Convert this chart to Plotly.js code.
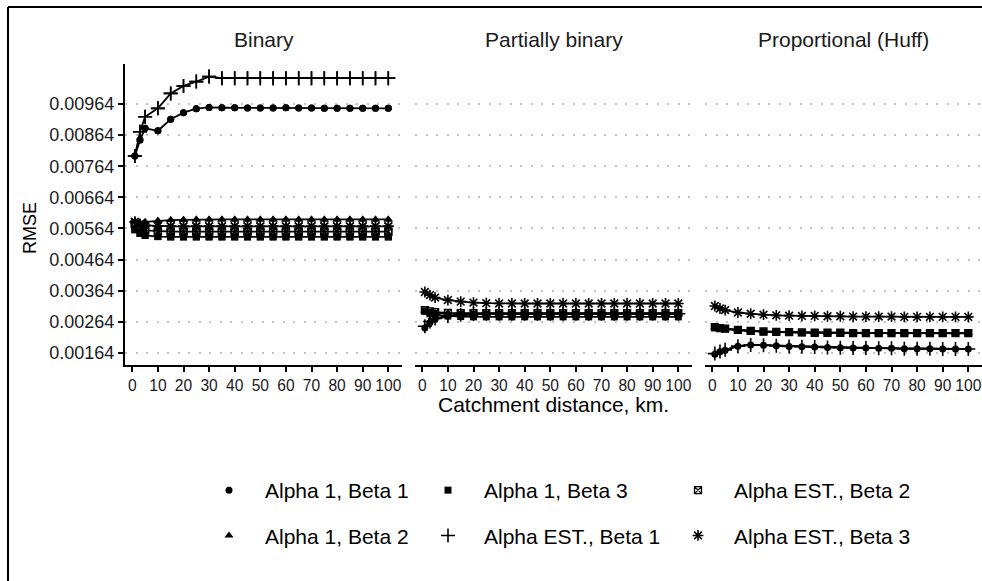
<!DOCTYPE html>
<html><head><meta charset="utf-8">
<script src="https://cdn.plot.ly/plotly-3.0.1.min.js"></script>
<style>html,body{margin:0;padding:0;background:#fff}#chart{width:982px;height:581px}</style>
</head><body><div id="chart"></div><script>
const panelTitles = ["Binary", "Partially binary", "Proportional (Huff)"];
const seriesNames = ["Alpha 1, Beta 1", "Alpha 1, Beta 2", "Alpha 1, Beta 3", "Alpha EST., Beta 1", "Alpha EST., Beta 2", "Alpha EST., Beta 3"];
const distances = [1, 3, 5, 10, 15, 20, 25, 30, 35, 40, 45, 50, 55, 60, 65, 70, 75, 80, 85, 90, 95, 100];
const xTickVals = [0, 10, 20, 30, 40, 50, 60, 70, 80, 90, 100];
const yTickVals = [0.00164, 0.00264, 0.00364, 0.00464, 0.00564, 0.00664, 0.00764, 0.00864, 0.00964];
const yTickText = ["0.00164", "0.00264", "0.00364", "0.00464", "0.00564", "0.00664", "0.00764", "0.00864", "0.00964"];

// Binary
const binA1B1 = [0.00797, 0.00848, 0.00886, 0.00878, 0.00915, 0.00936, 0.00949, 0.00953, 0.00952, 0.00952, 0.00951, 0.00951, 0.00951, 0.00952, 0.00951, 0.00951, 0.00950, 0.00950, 0.00950, 0.00950, 0.00950, 0.00950];
const binA1B2 = [0.00585, 0.00582, 0.00585, 0.00589, 0.00591, 0.00592, 0.00593, 0.00593, 0.00593, 0.00593, 0.00593, 0.00593, 0.00593, 0.00593, 0.00593, 0.00593, 0.00593, 0.00593, 0.00593, 0.00593, 0.00593, 0.00593];
const binA1B3 = [0.00560, 0.00548, 0.00542, 0.00538, 0.00537, 0.00537, 0.00537, 0.00537, 0.00537, 0.00537, 0.00537, 0.00537, 0.00537, 0.00537, 0.00537, 0.00537, 0.00537, 0.00537, 0.00537, 0.00537, 0.00537, 0.00537];
const binAEB1 = [0.00797, 0.00875, 0.00923, 0.00950, 0.00998, 0.01022, 0.01036, 0.01052, 0.01047, 0.01047, 0.01047, 0.01047, 0.01047, 0.01047, 0.01047, 0.01047, 0.01047, 0.01047, 0.01047, 0.01047, 0.01047, 0.01047];
const binAEB2 = [0.00578, 0.00565, 0.00558, 0.00555, 0.00554, 0.00554, 0.00554, 0.00554, 0.00554, 0.00554, 0.00554, 0.00554, 0.00554, 0.00554, 0.00554, 0.00554, 0.00554, 0.00554, 0.00554, 0.00554, 0.00554, 0.00554];
const binAEB3 = [0.00585, 0.00578, 0.00574, 0.00572, 0.00571, 0.00571, 0.00571, 0.00571, 0.00571, 0.00571, 0.00571, 0.00571, 0.00571, 0.00571, 0.00571, 0.00571, 0.00571, 0.00571, 0.00571, 0.00571, 0.00571, 0.00571];
// Partially binary
const parA1B1 = [0.00244, 0.00262, 0.00272, 0.00282, 0.00286, 0.00288, 0.00289, 0.00289, 0.00290, 0.00290, 0.00290, 0.00290, 0.00290, 0.00290, 0.00290, 0.00290, 0.00290, 0.00290, 0.00290, 0.00290, 0.00290, 0.00290];
const parA1B2 = [0.00300, 0.00296, 0.00293, 0.00291, 0.00290, 0.00290, 0.00290, 0.00290, 0.00290, 0.00290, 0.00290, 0.00290, 0.00290, 0.00290, 0.00290, 0.00290, 0.00290, 0.00290, 0.00290, 0.00290, 0.00290, 0.00290];
const parA1B3 = [0.00298, 0.00290, 0.00286, 0.00283, 0.00281, 0.00280, 0.00280, 0.00280, 0.00280, 0.00280, 0.00280, 0.00280, 0.00280, 0.00280, 0.00280, 0.00280, 0.00280, 0.00280, 0.00280, 0.00280, 0.00280, 0.00280];
const parAEB1 = [0.00250, 0.00265, 0.00275, 0.00283, 0.00287, 0.00289, 0.00290, 0.00290, 0.00290, 0.00290, 0.00290, 0.00290, 0.00290, 0.00290, 0.00290, 0.00290, 0.00290, 0.00290, 0.00290, 0.00290, 0.00290, 0.00290];
const parAEB2 = [0.00302, 0.00298, 0.00295, 0.00293, 0.00292, 0.00292, 0.00292, 0.00292, 0.00292, 0.00292, 0.00292, 0.00292, 0.00292, 0.00292, 0.00292, 0.00292, 0.00292, 0.00292, 0.00292, 0.00292, 0.00292, 0.00292];
const parAEB3 = [0.00360, 0.00350, 0.00342, 0.00334, 0.00329, 0.00326, 0.00324, 0.00323, 0.00323, 0.00323, 0.00323, 0.00323, 0.00323, 0.00323, 0.00323, 0.00323, 0.00323, 0.00323, 0.00323, 0.00323, 0.00323, 0.00323];
// Proportional (Huff)
const proA1B1 = [0.00160, 0.00168, 0.00173, 0.00186, 0.00190, 0.00189, 0.00187, 0.00185, 0.00184, 0.00183, 0.00182, 0.00181, 0.00180, 0.00180, 0.00179, 0.00179, 0.00178, 0.00178, 0.00178, 0.00177, 0.00177, 0.00177];
const proA1B2 = [0.00248, 0.00245, 0.00242, 0.00238, 0.00235, 0.00233, 0.00232, 0.00231, 0.00230, 0.00230, 0.00229, 0.00229, 0.00229, 0.00228, 0.00228, 0.00228, 0.00228, 0.00228, 0.00228, 0.00228, 0.00228, 0.00228];
const proA1B3 = [0.00245, 0.00243, 0.00241, 0.00237, 0.00234, 0.00232, 0.00231, 0.00230, 0.00229, 0.00229, 0.00228, 0.00228, 0.00228, 0.00227, 0.00227, 0.00227, 0.00227, 0.00227, 0.00227, 0.00227, 0.00227, 0.00227];
const proAEB1 = [0.00162, 0.00169, 0.00174, 0.00186, 0.00190, 0.00189, 0.00187, 0.00185, 0.00184, 0.00183, 0.00182, 0.00181, 0.00180, 0.00180, 0.00179, 0.00179, 0.00178, 0.00178, 0.00178, 0.00177, 0.00177, 0.00177];
const proAEB2 = [0.00247, 0.00244, 0.00242, 0.00238, 0.00235, 0.00233, 0.00232, 0.00231, 0.00230, 0.00229, 0.00229, 0.00229, 0.00228, 0.00228, 0.00228, 0.00228, 0.00228, 0.00228, 0.00228, 0.00228, 0.00228, 0.00228];
const proAEB3 = [0.00315, 0.00307, 0.00302, 0.00294, 0.00290, 0.00287, 0.00285, 0.00284, 0.00283, 0.00283, 0.00282, 0.00282, 0.00281, 0.00281, 0.00281, 0.00281, 0.00280, 0.00280, 0.00280, 0.00280, 0.00280, 0.00280];

const panelData = [
  [binA1B1, binA1B2, binA1B3, binAEB1, binAEB2, binAEB3],
  [parA1B1, parA1B2, parA1B3, parAEB1, parAEB2, parAEB3],
  [proA1B1, proA1B2, proA1B3, proAEB1, proAEB2, proAEB3]
];

const FONT = "Liberation Sans, Arial, Helvetica, sans-serif";
const markers = [
  {symbol: "circle", size: 7, color: "black", line: {width: 0}},
  {symbol: "triangle-up", size: 8, color: "black", line: {width: 0}},
  {symbol: "square", size: 7, color: "black", line: {width: 0}},
  {symbol: "cross-thin-open", size: 10, color: "black", line: {width: 1.6, color: "black"}},
  {symbol: "square-x-open", size: 7, color: "black", line: {width: 1.3, color: "black"}},
  {symbol: "asterisk-open", size: 9, color: "black", line: {width: 1.6, color: "black"}}
];
const legendOf = ["legend", "legend", "legend2", "legend2", "legend3", "legend3"];

const traces = [];
for (let p = 0; p < 3; p++) {
  const xa = p === 0 ? "x" : "x" + (p + 1);
  const ya = p === 0 ? "y" : "y" + (p + 1);
  for (let s = 0; s < 6; s++) {
    traces.push({
      x: distances, y: panelData[p][s], xaxis: xa, yaxis: ya,
      type: "scatter", mode: "lines+markers", name: seriesNames[s],
      line: {color: "black", width: 1.8}, marker: markers[s],
      showlegend: false, hoverinfo: "skip"
    });
  }
}
for (let s = 0; s < 6; s++) {
  traces.push({
    x: distances, y: panelData[0][s], xaxis: "x", yaxis: "y",
    type: "scatter", mode: "markers", name: seriesNames[s],
    marker: markers[s],
    legend: legendOf[s], legendgroup: "g" + s, showlegend: true, hoverinfo: "skip"
  });
}

const W = 982, H = 581;
const yRange = [0.001254, 0.010925];
const xRange = [-2.85, 105.35];
const doms = [[125, 402], [415, 692], [705, 982]];
const gridStyle = {showgrid: true, gridcolor: "#c4c4c4", gridwidth: 2, griddash: "2px,8.5px"};
function xax(i) {
  return {domain: [doms[i][0] / W, doms[i][1] / W], range: xRange, anchor: i === 0 ? "y" : "y" + (i + 1),
    showline: true, linecolor: "black", linewidth: 2, ticks: "outside", ticklen: 5, tickwidth: 2, tickcolor: "black",
    tickvals: xTickVals, tickfont: {family: FONT, size: 15.6, color: "#1a1a1a"}, showgrid: false, zeroline: false, fixedrange: true};
}
function yax(i) {
  const base = Object.assign({domain: [1 - 365 / H, 1 - 64 / H], range: yRange, anchor: i === 0 ? "x" : "x" + (i + 1),
    zeroline: false, tickvals: yTickVals, ticktext: yTickText, fixedrange: true}, gridStyle);
  if (i === 0) {
    return Object.assign(base, {showline: true, linecolor: "black", linewidth: 2, ticks: "outside", ticklen: 5, tickwidth: 2,
      tickcolor: "black", tickfont: {family: FONT, size: 18, color: "#1a1a1a"}});
  }
  return Object.assign(base, {showline: false, ticks: "", showticklabels: false});
}
const legBase = {orientation: "v", font: {family: FONT, size: 21, color: "black"}, bgcolor: "rgba(0,0,0,0)",
  tracegroupgap: 15, itemwidth: 62, yanchor: "top", xanchor: "left", y: 1 - 470 / H, itemclick: false};

const layout = {
  width: W, height: H, margin: {l: 0, r: 0, t: 0, b: 0}, paper_bgcolor: "white", plot_bgcolor: "white",
  font: {family: FONT, color: "black"},
  xaxis: xax(0), xaxis2: xax(1), xaxis3: xax(2),
  yaxis: yax(0), yaxis2: yax(1), yaxis3: yax(2),
  legend: Object.assign({}, legBase, {x: 193 / W}),
  legend2: Object.assign({}, legBase, {x: 412 / W}),
  legend3: Object.assign({}, legBase, {x: 662 / W}),
  annotations: [
    ...panelTitles.map((t, i) => ({text: t, xref: "paper", yref: "paper", x: (doms[i][0] + doms[i][1]) / 2 / W, y: 1 - 40 / H,
      xanchor: "center", yanchor: "middle", showarrow: false, font: {family: FONT, size: 21, color: "#1a1a1a"}})),
    {text: "Catchment distance, km.", xref: "paper", yref: "paper", x: 553 / W, y: 1 - 404 / H, xanchor: "center", yanchor: "middle",
      showarrow: false, font: {family: FONT, size: 21, color: "black"}},
    {text: "RMSE", xref: "paper", yref: "paper", x: 30 / W, y: 1 - 228 / H, xanchor: "center", yanchor: "middle", textangle: -90,
      showarrow: false, font: {family: FONT, size: 18, color: "black"}}
  ],
  shapes: [
    {type: "line", xref: "paper", yref: "paper", x0: 8 / W, x1: 1, y0: 1 - 7 / H, y1: 1 - 7 / H, line: {color: "black", width: 2}},
    {type: "line", xref: "paper", yref: "paper", x0: 8 / W, x1: 8 / W, y0: 1 - 7 / H, y1: 0, line: {color: "black", width: 2}}
  ]
};
Plotly.newPlot("chart", traces, layout, {displayModeBar: false, staticPlot: true});
</script></body></html>
